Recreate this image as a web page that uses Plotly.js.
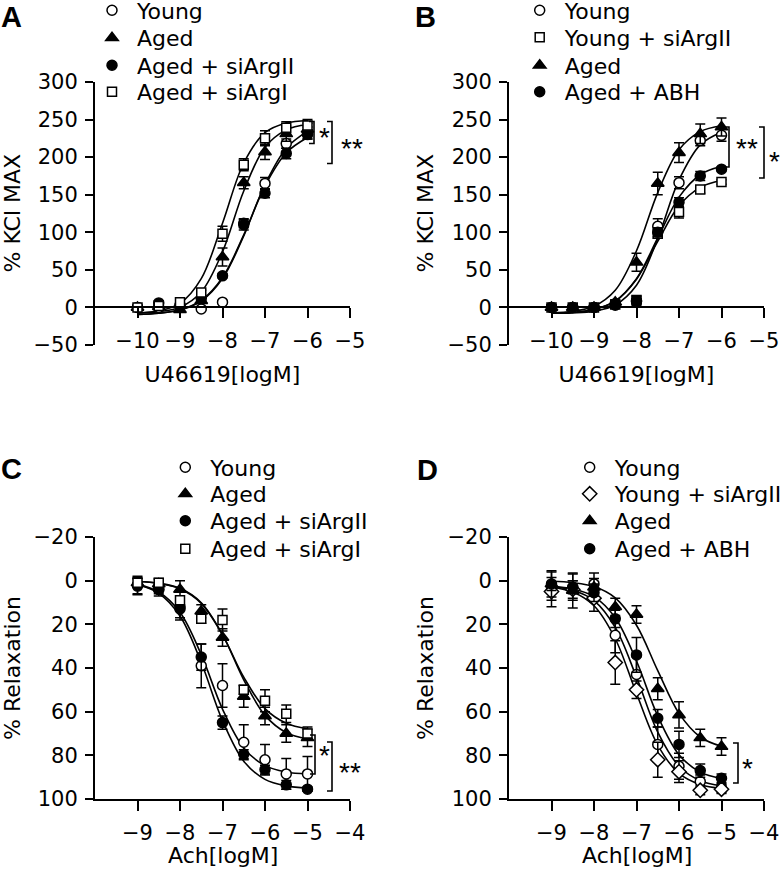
<!DOCTYPE html>
<html>
<head>
<meta charset="utf-8">
<script src="https://cdn.plot.ly/plotly-3.0.1.min.js"></script>
<style>html,body{margin:0;padding:0;background:#fff;}#chart{width:782px;height:882px;}</style>
</head>
<body>
<div id="chart"></div>
<script>
// ---------- DATA ----------
// Panels A & B : U46619 [logM] vs % KCl MAX
const xU46619 = [-10, -9.5, -9, -8.5, -8, -7.5, -7, -6.5, -6];
const xTicksU = [-10, -9, -8, -7, -6, -5];
const yTicksKCl = [-50, 0, 50, 100, 150, 200, 250, 300];

const A_young     = [0, 0, 3, -2, 7, 112, 165, 218, 232];
const A_youngErr  = [2, 2, 2, 2, 2, 6, 8, 6, 8];
const A_aged      = [0, 1, -3, 9, 67, 166, 207, 231, 237];
const A_agedErr   = [2, 2, 2, 3, 12, 8, 10, 10, 8];
const A_siII      = [0, 6, 2, 12, 42, 110, 152, 205, 230];
const A_siIIErr   = [2, 3, 2, 3, 3, 7, 6, 7, 6];
const A_siI       = [0, 2, 7, 20, 98, 190, 225, 239, 242];
const A_siIErr    = [2, 2, 2, 3, 10, 8, 10, 8, 8];
// fitted curves
const A_youngFit  = [-9.3, -7.8, -3.5, 8.5, 38.4, 95.3, 163.6, 211.9, 234.7];
const A_agedFit   = [-7.4, -5.7, 0.3, 20.6, 74.0, 155.0, 213.1, 236.3, 243.4];
const A_siIIFit   = [-9.2, -7.7, -3.2, 9.3, 39.9, 96.5, 161.6, 205.8, 226.2];
const A_siIFit    = [-7.1, -4.5, 5.4, 38.3, 112.1, 192.2, 232.6, 245.4, 248.8];

const B_young     = [0, 0, 0, 5, 8, 108, 166, 222, 229];
const B_youngErr  = [3, 2, 2, 2, 2, 10, 8, 7, 8];
const B_youngSi   = [0, 0, 0, 4, 10, 98, 127, 157, 167];
const B_youngSiErr= [3, 2, 2, 2, 2, 6, 8, 5, 3];
const B_aged      = [0, 0, 0, 7, 60, 165, 206, 231, 240];
const B_agedErr   = [3, 2, 2, 3, 12, 15, 13, 13, 12];
const B_abh       = [0, 0, 0, 3, 9, 100, 140, 175, 184];
const B_abhErr    = [3, 2, 2, 2, 6, 6, 6, 6, 3];
const B_youngFit  = [-7.8, -7.2, -4.9, 3.3, 29.6, 91.7, 169.7, 216.4, 233.2];
const B_youngSiFit= [-7.5, -6.4, -2.7, 8.5, 37.6, 88.0, 135.2, 159.8, 168.8];
const B_agedFit   = [-7.2, -5.2, 1.5, 22.8, 75.4, 152.8, 209.9, 234.0, 241.8];
const B_abhFit    = [-7.5, -6.4, -2.8, 8.4, 38.2, 92.5, 146.8, 176.6, 187.8];

// Panels C & D : Ach [logM] vs % Relaxation
const xAch = [-9, -8.5, -8, -7.5, -7, -6.5, -6, -5.5, -5];
const xTicksAch = [-9, -8, -7, -6, -5, -4];
const yTicksRel = [-20, 0, 20, 40, 60, 80, 100];

const C_young     = [2, 4, 12, 39, 48, 74, 82, 88.5, 88.5];
const C_youngErr  = [4, 3, 5, 10, 10, 8, 7, 7, 8];
const C_aged      = [1, 1.5, 4, 14, 26, 53, 62, 70, 72];
const C_agedErr   = [2, 2, 4, 3, 4, 5, 4, 4, 4];
const C_siII      = [2.5, 4, 13, 35, 65, 79.5, 86.5, 93.5, 95.5];
const C_siIIErr   = [4, 2, 5, 6, 3, 2, 2, 2, 1];
const C_siI       = [1, 1, 9, 17.5, 18, 50, 55, 61, 70];
const C_siIErr    = [2, 2, 2, 2, 5, 2, 5, 4, 3];
const C_youngFit  = [1.7, 5.2, 14.5, 33.9, 58.8, 76.6, 84.7, 87.6, 88.5];
const C_agedFit   = [0.4, 1.2, 3.5, 10.1, 24.7, 45.4, 61.7, 69.6, 72.5];
const C_siIIFit   = [1.9, 5.8, 16.2, 37.5, 64.1, 82.7, 91.0, 94.0, 95.0];
const C_siIFit    = [0.4, 1.2, 3.7, 10.4, 24.8, 44.2, 58.6, 65.3, 67.8];

const D_young     = [4, 3, 1.5, 25, 43, 75, 85, 92, 95];
const D_youngErr  = [8, 6, 5, 8, 8, 8, 6, 3, 2];
const D_youngSi   = [5, 4, 8, 37.5, 50, 82, 87.5, 96, 95.5];
const D_youngSiErr= [4, 4, 6, 10, 4, 8, 5, 2, 2];
const D_aged      = [1.5, 4.5, 3, 12, 15.5, 49.5, 61.5, 72, 76];
const D_agedErr   = [6, 8, 4, 4, 4, 5, 6, 4, 4];
const D_abh       = [1.5, 3, 5.5, 17.5, 34, 63, 75, 87, 90.5];
const D_abhErr    = [3, 3, 4, 4, 8, 4, 6, 3, 2];
const D_youngFit  = [2.8, 4.4, 9.1, 21.4, 44.2, 69.4, 85.0, 91.6, 93.9];
const D_youngSiFit= [3.0, 5.2, 11.5, 26.6, 51.7, 75.3, 88.3, 93.4, 95.2];
const D_agedFit   = [0.3, 0.9, 2.7, 7.9, 20.4, 41.2, 60.8, 71.6, 75.9];
const D_abhFit    = [2.6, 3.8, 7.3, 17.0, 36.8, 62.0, 79.7, 87.7, 90.6];

// ---------- STYLE / LAYOUT ----------
const FONT = 'DejaVu Sans, Liberation Sans, Arial, sans-serif';
const FONT_B = 'Liberation Sans, Arial, Helvetica, sans-serif';
const W = 782, H = 882;
const px = v => v / W;
const py = v => 1 - v / H;

const SYM = {
  young:   {symbol: 'circle', size: 10, color: '#fff'},
  aged:    {symbol: 'triangle-up', size: 11, color: '#000'},
  filled:  {symbol: 'circle', size: 10, color: '#000'},
  square:  {symbol: 'square', size: 9, color: '#fff'},
  diamond: {symbol: 'diamond', size: 11, color: '#fff'}
};

const traces = [];
function curve(xs, ys, xa, ya) {
  traces.push({x: xs, y: ys, xaxis: xa, yaxis: ya, mode: 'lines', showlegend: false,
    hoverinfo: 'skip', line: {color: '#000', width: 1.6, shape: 'spline', smoothing: 1}});
}
function pts(xs, ys, err, name, s, xa, ya, leg) {
  traces.push({x: xs, y: ys, xaxis: xa, yaxis: ya, mode: 'markers', name: name, legend: leg,
    marker: {symbol: s.symbol, size: s.size, color: s.color, line: {color: '#000', width: 1.5}},
    error_y: {type: 'data', array: err, visible: true, color: '#000', thickness: 1.5, width: 5}});
}

// curves first
curve(xU46619, A_youngFit, 'x', 'y'); curve(xU46619, A_agedFit, 'x', 'y');
curve(xU46619, A_siIIFit, 'x', 'y');  curve(xU46619, A_siIFit, 'x', 'y');
curve(xU46619, B_youngFit, 'x2', 'y2'); curve(xU46619, B_youngSiFit, 'x2', 'y2');
curve(xU46619, B_agedFit, 'x2', 'y2');  curve(xU46619, B_abhFit, 'x2', 'y2');
curve(xAch, C_youngFit, 'x3', 'y3'); curve(xAch, C_agedFit, 'x3', 'y3');
curve(xAch, C_siIIFit, 'x3', 'y3');  curve(xAch, C_siIFit, 'x3', 'y3');
curve(xAch, D_youngFit, 'x4', 'y4'); curve(xAch, D_youngSiFit, 'x4', 'y4');
curve(xAch, D_agedFit, 'x4', 'y4');  curve(xAch, D_abhFit, 'x4', 'y4');

pts(xU46619, A_young, A_youngErr, 'Young', SYM.young, 'x', 'y', 'legend');
pts(xU46619, A_aged, A_agedErr, 'Aged', SYM.aged, 'x', 'y', 'legend2');
pts(xU46619, A_siII, A_siIIErr, 'Aged + siArgII', SYM.filled, 'x', 'y', 'legend3');
pts(xU46619, A_siI, A_siIErr, 'Aged + siArgI', SYM.square, 'x', 'y', 'legend4');

pts(xU46619, B_young, B_youngErr, 'Young', SYM.young, 'x2', 'y2', 'legend5');
pts(xU46619, B_youngSi, B_youngSiErr, 'Young + siArgII', SYM.square, 'x2', 'y2', 'legend6');
pts(xU46619, B_aged, B_agedErr, 'Aged', SYM.aged, 'x2', 'y2', 'legend7');
pts(xU46619, B_abh, B_abhErr, 'Aged + ABH', SYM.filled, 'x2', 'y2', 'legend8');

pts(xAch, C_young, C_youngErr, 'Young', SYM.young, 'x3', 'y3', 'legend9');
pts(xAch, C_aged, C_agedErr, 'Aged', SYM.aged, 'x3', 'y3', 'legend10');
pts(xAch, C_siII, C_siIIErr, 'Aged + siArgII', SYM.filled, 'x3', 'y3', 'legend11');
pts(xAch, C_siI, C_siIErr, 'Aged + siArgI', SYM.square, 'x3', 'y3', 'legend12');

pts(xAch, D_young, D_youngErr, 'Young', SYM.young, 'x4', 'y4', 'legend13');
pts(xAch, D_youngSi, D_youngSiErr, 'Young + siArgII', SYM.diamond, 'x4', 'y4', 'legend14');
pts(xAch, D_aged, D_agedErr, 'Aged', SYM.aged, 'x4', 'y4', 'legend15');
pts(xAch, D_abh, D_abhErr, 'Aged + ABH', SYM.filled, 'x4', 'y4', 'legend16');

// axes
const domXL = [px(95), px(350)], domXR = [px(509), px(764)];
const domYT = [py(345), py(82)], domYB = [py(799), py(537)];
function xax(dom, range, ticks, title, labelOff, titleOff, extra) {
  return Object.assign({domain: dom, range: range, tickmode: 'array', tickvals: ticks,
    showline: true, linecolor: '#000', linewidth: 2, ticks: 'outside', ticklen: 10, tickwidth: 2,
    tickcolor: '#000', showgrid: false, zeroline: false, fixedrange: true, automargin: false,
    tickfont: {family: FONT, size: 21, color: '#000'}, ticklabelstandoff: labelOff,
    title: {text: title, font: {family: FONT, size: 22, color: '#000'}, standoff: titleOff}}, extra);
}
function yax(dom, range, ticks, anchor) {
  return {domain: dom, range: range, tickmode: 'array', tickvals: ticks, anchor: anchor,
    showline: true, linecolor: '#000', linewidth: 2, ticks: 'outside', ticklen: 8, tickwidth: 2,
    tickcolor: '#000', showgrid: false, zeroline: false, fixedrange: true, automargin: false,
    tickfont: {family: FONT, size: 21, color: '#000'}, ticklabelstandoff: 3};
}
const zeroPos = py(307.4);

const layout = {
  width: W, height: H, margin: {l: 0, r: 0, t: 0, b: 0, autoexpand: false},
  paper_bgcolor: '#fff', plot_bgcolor: 'rgba(0,0,0,0)',
  font: {family: FONT, size: 21, color: '#000'},
  xaxis:  xax(domXL, [-11, -5], xTicksU, 'U46619[logM]', 4, 14, {anchor: 'free', position: zeroPos}),
  yaxis:  yax(domYT, [-50, 300], yTicksKCl, 'x'),
  xaxis2: xax(domXR, [-11, -5], xTicksU, 'U46619[logM]', 4, 14, {anchor: 'free', position: zeroPos}),
  yaxis2: yax(domYT, [-50, 300], yTicksKCl, 'x2'),
  xaxis3: xax(domXL, [-10, -4], xTicksAch, '', 4, 0, {anchor: 'y3'}),
  yaxis3: yax(domYB, [100, -20], yTicksRel, 'x3'),
  xaxis4: xax(domXR, [-10, -4], xTicksAch, '', 4, 0, {anchor: 'y4'}),
  yaxis4: yax(domYB, [100, -20], yTicksRel, 'x4'),
  annotations: [], shapes: []
};

// axis titles placed as in the figure: [centerX, centerY, text, angle]
const axisTitles = [
  [12, 213.5, '% KCl MAX', -90], [425, 213.5, '% KCl MAX', -90],
  [12, 668, '% Relaxation', -90], [425, 668, '% Relaxation', -90],
  [222.5, 855, 'Ach[logM]', 0], [636.5, 855, 'Ach[logM]', 0]
];
axisTitles.forEach(t => {
  layout.annotations.push({text: t[2], xref: 'paper', yref: 'paper', x: px(t[0]), y: py(t[1]),
    xanchor: 'center', yanchor: 'middle', textangle: t[3], showarrow: false, borderpad: 0,
    font: {family: FONT, size: 22, color: '#000'}});
});

// legends: one per entry so that row spacing can match the figure
const legendSpec = [
  // [symbolCenterX, rowY]
  [110, 10.5], [110, 38], [110, 65.5], [110, 92],
  [537.7, 10.5], [537.7, 37.5], [537.7, 65.5], [537.7, 92],
  [183.3, 467.5], [183.3, 494], [183.3, 521], [183.3, 549],
  [587.7, 467.5], [587.7, 494], [587.7, 521], [587.7, 549]
];
legendSpec.forEach((s, i) => {
  const key = i === 0 ? 'legend' : 'legend' + (i + 1);
  layout[key] = {x: px(s[0] - 23), y: py(s[1]),
    xanchor: 'left', yanchor: 'middle',
    bgcolor: 'rgba(0,0,0,0)', borderwidth: 0, itemwidth: 40, itemclick: false, itemdoubleclick: false,
    font: {family: FONT, size: 22, color: '#000'}, tracegroupgap: 0};
});

// panel letters
[['A', 0, 0], ['B', 414, 0], ['C', 0, 452], ['D', 416, 453]].forEach(l => {
  layout.annotations.push({text: '<b>' + l[0] + '</b>', xref: 'paper', yref: 'paper',
    x: px(l[1]), y: py(l[2]), xanchor: 'left', yanchor: 'top', showarrow: false, borderpad: 0,
    font: {family: FONT_B, size: 29, color: '#000'}});
});

// significance brackets [x, yTop, yBottom, label, labelX, labelY]
const brackets = [
  [314, 121.5, 143.5, '*', 324, 138],
  [332, 121.5, 163.5, '**', 352, 148],
  [729, 127, 167, '**', 747, 148],
  [764, 127, 178, '*', 774, 161],
  [315, 735, 774, '*', 324, 755],
  [332, 742, 791, '**', 350, 772],
  [738, 743, 783, '*', 747, 768]
];
brackets.forEach(b => {
  const arm = 5;
  layout.shapes.push({type: 'path', xref: 'paper', yref: 'paper',
    path: 'M' + px(b[0] - arm) + ',' + py(b[1]) + ' L' + px(b[0]) + ',' + py(b[1]) +
          ' L' + px(b[0]) + ',' + py(b[2]) + ' L' + px(b[0] - arm) + ',' + py(b[2]),
    line: {color: '#000', width: 1.6}});
  layout.annotations.push({text: b[3], xref: 'paper', yref: 'paper', x: px(b[4]), y: py(b[5]),
    xanchor: 'center', yanchor: 'middle', showarrow: false,
    font: {family: FONT_B, size: 28, color: '#000'}});
});

Plotly.newPlot('chart', traces, layout, {staticPlot: true, displayModeBar: false});
</script>
</body>
</html>
